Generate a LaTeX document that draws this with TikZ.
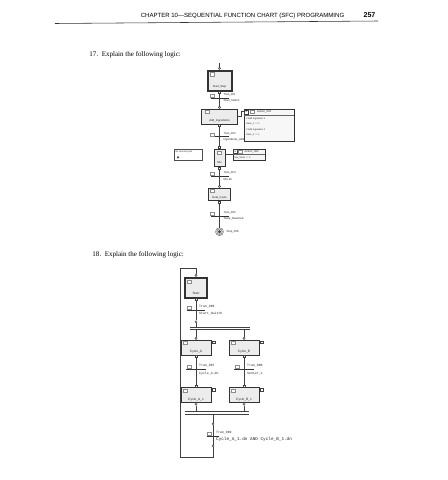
\documentclass[tikz,border=0pt]{standalone}
\usepackage{fontspec}
\setmainfont{Liberation Serif}
\setsansfont{Liberation Sans}
\setmonofont{Liberation Mono}
\usetikzlibrary{calc}
\usetikzlibrary{positioning}

\begin{document}
\begin{tikzpicture}[x=0.5mm, y=-0.5mm,
    stepbox/.style={rectangle, draw=black!80, fill=gray!15, line width=1pt, inner sep=0pt},
    initframe/.style={draw=black!80, line width=0.7pt},
    trbar/.style={rectangle, fill=black!80, inner sep=0pt, minimum height=1.2pt},
    pinc/.style={circle, draw=black!75, fill=white, inner sep=0pt, minimum size=1.1mm, line width=0.7pt},
    pins/.style={rectangle, draw=black!75, fill=white, inner sep=0pt, minimum size=1mm, line width=0.7pt},
    icon/.style={rectangle, draw=black!45, fill=white, inner sep=0pt, minimum width=2mm, minimum height=1.6mm, line width=0.5pt},
    actbox/.style={rectangle, draw=black!80, fill=gray!6, inner sep=0pt, line width=1pt},
    wire/.style={draw=black!75, line width=0.8pt},
    lbl/.style={font=\sffamily\fontsize{4}{4.5}\selectfont, inner sep=0pt, text=black!85},
    slbl/.style={font=\sffamily\fontsize{3.3}{4}\selectfont, inner sep=0pt, text=black!85},
    mlbl/.style={font=\ttfamily\fontsize{4.6}{5.5}\selectfont, inner sep=0pt, text=black!85}]
    \useasboundingbox (0,0) rectangle (448,480);
    \fill[white] (0,0) rectangle (448,480);

    % page heading
    \node[font=\sffamily\fontsize{8.6}{10}\selectfont, anchor=base] (head) at (242.5,17.5) {CHAPTER 10---SEQUENTIAL FUNCTION CHART (SFC) PROGRAMMING};
    \node[font=\sffamily\bfseries\fontsize{10}{12}\selectfont, anchor=base] (pno) at (369.5,17.5) {257};
    \draw[black!80, line width=0.8pt] (55,23.5) -- (378,21);
    \node[font=\fontsize{10}{12}\selectfont, anchor=base west] (q17) at (87,56) {17.\ \ Explain the following logic:};
    \node[font=\fontsize{10}{12}\selectfont, anchor=base west] (q18) at (90,256.5) {18.\ \ Explain the following logic:};

    % ---- chart 17
    \node[stepbox, minimum width=12.5mm, minimum height=10.5mm] (s0) at (219.5,80.5) {};
    \draw[initframe] ([shift={(0.7mm,-0.7mm)}]s0.north west) rectangle ([shift={(-0.7mm,0.7mm)}]s0.south east);
    \node[icon] at ([shift={(2.6mm,-2.3mm)}]s0.north west) {};
    \node[lbl] at ([yshift=2.3mm]s0.south) {Start\_Step};
    \node[pinc, anchor=south] (s0in) at (s0.north) {};
    \node[pins, anchor=north] (s0out) at (s0.south) {};
    \coordinate (s0top) at (219.5,63);

    \node[stepbox, minimum width=18mm, minimum height=7.5mm] (s1) at (219.5,116.5) {};
    \node[icon] at ([shift={(3mm,-1.6mm)}]s1.north west) {};
    \node[lbl] at ([yshift=1.9mm]s1.south) {Add\_Ingredients};
    \node[pinc, anchor=south] (s1in) at (s1.north) {};
    \node[pins, anchor=north] (s1out) at (s1.south) {};

    \node[stepbox, minimum width=5.5mm, minimum height=8.8mm] (s2) at (219.5,157.8) {};
    \node[icon] at ([yshift=-2.2mm]s2.north) {};
    \node[lbl] at ([yshift=2mm]s2.south) {Mix};
    \node[pins, anchor=south] (s2in) at (s2.north) {};
    \node[pins, anchor=north] (s2out) at (s2.south) {};

    \node[stepbox, minimum width=11.3mm, minimum height=6.3mm] (s3) at (219.5,194.3) {};
    \node[icon] at ([shift={(2.2mm,-1.5mm)}]s3.north west) {};
    \node[lbl] at ([yshift=1.7mm]s3.south) {Heat\_Cycle};
    \node[pinc, anchor=south] (s3in) at (s3.north) {};
    \node[pins, anchor=north] (s3out) at (s3.south) {};

    \node[circle, draw=black!60, fill=gray!25, double=white, double distance=0.6pt, line width=0.8pt, inner sep=0pt, minimum size=3.4mm] (stop) at (219.5,231.7) {};
    \node[circle, fill=black!75, inner sep=0pt, minimum size=1.6mm] at (stop) {};
    \node[lbl, anchor=west] at (226.5,232) {Stop\_006};

    \foreach \i/\y/\tn/\tc in {1/98/Tran\_001/Start\_Switch, 2/136.5/Tran\_002/Ingredients\_Added, 3/176/Tran\_004/Mix.dn, 4/216/Tran\_005/Temp\_Reached}
    {
        \node[trbar, minimum width=9mm] (t\i) at (219.5,\y) {};
        \node[icon, anchor=south west] at ([yshift=0.6pt]t\i.west) {};
        \node[lbl, anchor=west] at (223.5,\y-3) {\tn};
        \node[lbl, anchor=west] at (223.5,\y+3) {\tc};
    }

    % actions
    \node[actbox, minimum width=25mm, minimum height=16mm] (a1) at (269,125) {};
    \draw[black!60, line width=0.6pt] (a1.west |- 0,115) -- (a1.east |- 0,115);
    \node[pins, minimum size=2mm, font=\sffamily\fontsize{3}{3}\selectfont] at (246.5,112) {N};
    \node[icon] at (252,112) {};
    \node[lbl, anchor=west] at (257,112) {Action\_001};
    \node[slbl, anchor=west] at (246,118.5) {// Add Ingredient 1};
    \node[slbl, anchor=west] at (246,124) {Valve\_1 := 1;};
    \node[slbl, anchor=west] at (246,129.5) {// Add Ingredient 2};
    \node[slbl, anchor=west] at (246,135) {Valve\_2 := 1;};

    \node[actbox, minimum width=16mm, minimum height=5.5mm] (a2) at (249,154.5) {};
    \draw[black!60, line width=0.6pt] (a2.west |- 0,154.3) -- (a2.east |- 0,154.3);
    \node[pins, minimum size=2mm, font=\sffamily\fontsize{3}{3}\selectfont] at (235.3,151.6) {N};
    \node[icon] at (240.5,151.6) {};
    \node[lbl, anchor=west] at (244.5,151.6) {Action\_002};
    \node[slbl, anchor=west] at (234.5,157.4) {Mix\_Motor := 1;};

    % comment
    \node[rectangle, draw=black!70, fill=white, line width=0.8pt, inner sep=0pt, minimum width=13.9mm, minimum height=5.5mm] (cmt) at (187.9,154.5) {};
    \node[slbl, anchor=west] at (175.5,151.6) {60 second cycle};
    \node[circle, fill=black!70, inner sep=0pt, minimum size=1.2mm] (lock) at (178,157.3) {};

    \draw[wire] (s0top) -- (s0in);
    \draw[wire] (s0out) -- (s1in);
    \draw[wire] (s1out) -- (s2in);
    \draw[wire] (s2out) -- (s3in);
    \draw[wire] (s3out) -- (stop);
    \draw[wire] (s1.east) -- ++(3.5,0) |- ([yshift=-1.5mm]a1.north west);
    \draw[wire] (s2.east |- a2.west) -- (a2.west);

    % ---- chart 18
    \node[stepbox, minimum width=11.5mm, minimum height=10.5mm] (r0) at (196,287.5) {};
    \draw[initframe] ([shift={(0.7mm,-0.7mm)}]r0.north west) rectangle ([shift={(-0.7mm,0.7mm)}]r0.south east);
    \node[icon] at ([shift={(2.6mm,-2.4mm)}]r0.north west) {};
    \node[lbl, font=\sffamily\fontsize{4.6}{5}\selectfont] at ([yshift=2.3mm]r0.south) {Start};
    \node[pinc, anchor=south] (r0in) at (r0.north) {};
    \node[pins, anchor=north] (r0out) at (r0.south) {};

    \node[trbar, minimum width=9mm] (t6) at (196,310) {};
    \node[icon, anchor=south west] at ([yshift=0.6pt]t6.west) {};
    \node[mlbl, anchor=west] at (199,306.5) {Tran\_006};
    \node[mlbl, anchor=west] at (199,313.5) {Start\_Switch};
    \node[pinc] (r0d) at (196,321.7) {};

    \node[inner sep=0pt, minimum width=30mm, minimum height=1.15mm] (div) at (220,328.2) {};
    \draw[wire] (div.north west) -- (div.north east);
    \draw[wire] (div.south west) -- (div.south east);

    \foreach \nm/\x/\ta/\tb/\tc/\tx in {a/196/Cycle\_A/Tran\_007/Cycle\_A.dn/Cycle\_A\_1, b/244/Cycle\_B/Tran\_008/Sensor\_1/Cycle\_B\_1}
    {
        \node[stepbox, minimum width=15mm, minimum height=7.5mm] (c\nm) at (\x,347.5) {};
        \node[icon] at ([shift={(2.3mm,-1.6mm)}]c\nm.north west) {};
        \node[lbl, font=\sffamily\fontsize{4.6}{5}\selectfont] at ([yshift=1.8mm]c\nm.south) {\ta};
        \node[pins, minimum size=1.3mm, anchor=north west] at ([shift={(0.4mm,-0.6mm)}]c\nm.north east) {};
        \node[pinc, anchor=south] (c\nm in) at (c\nm.north) {};
        \node[pins, anchor=north] (c\nm out) at (c\nm.south) {};

        \node[trbar, minimum width=10mm] (t\nm) at (\x,369) {};
        \node[icon, anchor=south west] at ([shift={(0.6mm,0.6pt)}]t\nm.west) {};
        \node[mlbl, anchor=west] at (\x+3,366) {\tb};
        \node[mlbl, anchor=west] at (\x+3,373.5) {\tc};

        \node[stepbox, minimum width=15mm, minimum height=7.5mm] (d\nm) at (\x,395) {};
        \node[icon] at ([shift={(2.3mm,-1.6mm)}]d\nm.north west) {};
        \node[lbl, font=\sffamily\fontsize{4.6}{5}\selectfont] at ([yshift=1.8mm]d\nm.south) {\tx};
        \node[pins, minimum size=1.3mm, anchor=north west] at ([shift={(0.4mm,-0.6mm)}]d\nm.north east) {};
        \node[pins, anchor=south] (d\nm in) at (d\nm.north) {};
        \node[pinc, anchor=north] (d\nm out) at (d\nm.south) {};

        \draw[wire] (div.south -| c\nm in) -- (c\nm in);
        \draw[wire] (c\nm out) -- (d\nm in);
    }

    \node[inner sep=0pt, minimum width=32mm, minimum height=1.15mm] (conv) at (217,412.8) {};
    \draw[wire] (conv.north west) -- (conv.north east);
    \draw[wire] (conv.south west) -- (conv.south east);
    \draw[wire] (daout) -- (daout |- conv.north);
    \draw[wire] (dbout) -- (dbout |- conv.north);

    \node[pinc] (r9in) at (213,424) {};
    \node[trbar, minimum width=6mm] (t9) at (213,436) {};
    \node[icon, anchor=south west] at ([yshift=0.6pt]t9.west) {};
    \node[mlbl, anchor=west] at (216,432.5) {Tran\_009};
    \node[mlbl, font=\ttfamily\fontsize{6.2}{7}\selectfont, anchor=west] at (216,439.5) {Cycle\_A\_1.dn AND Cycle\_B\_1.dn};
    \node[pinc] (r9out) at (213,446) {};

    \coordinate (lpA) at (180,268);
    \coordinate (lpB) at (196,268);
    \coordinate (lpC) at (180,457);
    \coordinate (lpD) at (213,457);

    \draw[wire] (r0out) -- (r0d);
    \draw[wire] (r0d) -- (r0d |- div.north);
    \draw[wire] (conv.south -| r9in) -- (r9in);
    \draw[wire] (r9in) -- (r9out);
    \draw[wire] (r9out) -- (lpD) -- (lpC) -- (lpA) -- (lpB) -- (r0in);
\end{tikzpicture}
\end{document}
